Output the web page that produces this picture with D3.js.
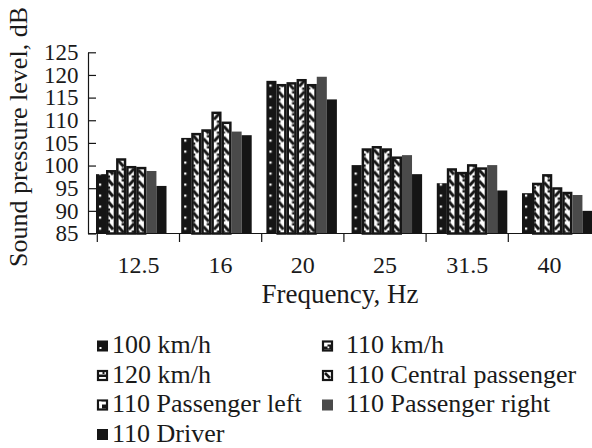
<!DOCTYPE html>
<html>
<head>
<meta charset="utf-8">
<script src="https://cdn.jsdelivr.net/npm/d3@7"></script>
<style>
  html, body { margin: 0; padding: 0; background: #fff; }
  svg { display: block; }
  text { font-family: "Liberation Serif", "Times New Roman", serif; fill: #1a1a1a; }
</style>
</head>
<body>
<svg id="chart" width="592" height="448"></svg>
<script>
// Frequencies (third-octave bands, Hz)
const frequencies = ["12.5", "16", "20", "25", "31.5", "40"];
// Measurement conditions
const seriesNames = [
  "100 km/h", "110 km/h", "120 km/h", "110 Central passenger",
  "110 Passenger left", "110 Passenger right", "110 Driver"
];
// Sound pressure level, dB, per frequency
const levels100 = [98.1, 106.1, 118.7, 100.1, 96.1, 93.9];
const levels110 = [99.0, 107.2, 118.0, 103.8, 99.4, 96.2];
const levels120 = [101.6, 108.0, 118.4, 104.3, 98.6, 98.1];
const levelsCentral = [99.9, 111.9, 119.1, 103.8, 100.3, 95.2];
const levelsLeft = [99.7, 109.7, 118.0, 102.0, 99.6, 94.2];
const levelsRight = [98.8, 107.5, 119.6, 102.3, 100.1, 93.5];
const levelsDriver = [95.5, 106.7, 114.6, 98.1, 94.5, 90.0];
const yTicks = [85, 90, 95, 100, 105, 110, 115, 120, 125];

const seriesValues = [levels100, levels110, levels120, levelsCentral, levelsLeft, levelsRight, levelsDriver];

const svg = d3.select("#chart");
const ink = "#151515";

// Plot frame
const plotLeft = 88, plotRight = 592, plotTop = 52.3, plotBottom = 233.5;

const y = d3.scaleLinear().domain([85, 125]).range([plotBottom, plotTop]);
// Category bands used for the axis ticks and labels
const xAxisBand = d3.scaleBand().domain(frequencies).range([97.3, 590.5]);
// Category bands used for the bar groups
const xGroup = d3.scaleBand().domain(frequencies).range([96, 592.5]).paddingInner(0.1725).paddingOuter(0);
const xSeries = d3.scaleBand().domain(seriesNames).range([0, xGroup.bandwidth()]);
const bw = xSeries.bandwidth();

// ---- Fill patterns for the hatched series ----
const defs = svg.append("defs");
function barPattern(i, draw) {
  const p = defs.append("pattern")
    .attr("id", "pat" + i)
    .attr("patternUnits", "userSpaceOnUse")
    .attr("x", xGroup(frequencies[0]) + xSeries(seriesNames[i]))
    .attr("y", y(85))
    .attr("width", xGroup.step())
    .attr("height", 11);
  draw(p);
}
function hatchBase(p) {
  p.append("rect").attr("width", xGroup.step()).attr("height", 11).attr("fill", "#fff");
}
// 100 km/h: black with white dots
barPattern(0, p => {
  p.append("rect").attr("width", xGroup.step()).attr("height", 11).attr("fill", ink);
  p.append("rect").attr("x", 3).attr("y", 5).attr("width", 2.2).attr("height", 2.2).attr("fill", "#fff");
});
// 110 km/h
barPattern(1, p => {
  hatchBase(p);
  p.append("path").attr("d", "M2,1 L7,7").attr("stroke", ink).attr("stroke-width", 3).attr("fill", "none");
  p.append("rect").attr("x", 1.5).attr("y", 8).attr("width", 2.5).attr("height", 2.5).attr("fill", ink);
});
// 120 km/h
barPattern(2, p => {
  hatchBase(p);
  p.append("path").attr("d", "M2,4 L7.5,10").attr("stroke", ink).attr("stroke-width", 3).attr("fill", "none");
  p.append("rect").attr("x", 5.5).attr("y", 0.5).attr("width", 2.5).attr("height", 2.5).attr("fill", ink);
});
// 110 Central passenger
barPattern(3, p => {
  hatchBase(p);
  p.append("path").attr("d", "M8,1 L2.5,7").attr("stroke", ink).attr("stroke-width", 3).attr("fill", "none");
  p.append("rect").attr("x", 5.5).attr("y", 8).attr("width", 2.5).attr("height", 2.5).attr("fill", ink);
});
// 110 Passenger left
barPattern(4, p => {
  hatchBase(p);
  p.append("path").attr("d", "M2,2.5 L8,9").attr("stroke", ink).attr("stroke-width", 3.2).attr("fill", "none");
  p.append("rect").attr("x", 1.5).attr("y", 8).attr("width", 2).attr("height", 2).attr("fill", ink);
});

const fills = ["url(#pat0)", "url(#pat1)", "url(#pat2)", "url(#pat3)", "url(#pat4)", "#4a4a4a", ink];
const outlined = [false, true, true, true, true, false, false];

// ---- Bars ----
const barData = [];
seriesValues.forEach((vals, si) => {
  vals.forEach((v, fi) => barData.push({ s: si, f: frequencies[fi], v }));
});

svg.append("g").selectAll("rect")
  .data(barData)
  .join("rect")
  .attr("x", d => xGroup(d.f) + xSeries(seriesNames[d.s]) + (outlined[d.s] ? 1.2 : 0))
  .attr("y", d => y(d.v) + (outlined[d.s] ? 1.2 : 0))
  .attr("width", d => bw - (outlined[d.s] ? 2.4 : 0))
  .attr("height", d => y(85) - y(d.v) - (outlined[d.s] ? 1.2 : 0))
  .attr("fill", d => fills[d.s])
  .attr("stroke", d => outlined[d.s] ? ink : "none")
  .attr("stroke-width", 2.5);

// ---- Y axis ----
const yAxis = svg.append("g")
  .attr("transform", `translate(${plotLeft},0)`)
  .call(d3.axisLeft(y).tickValues(yTicks).tickSize(-8).tickSizeOuter(0).tickPadding(9.5).tickFormat(d3.format("d")));
yAxis.select(".domain").attr("stroke", ink).attr("stroke-width", 1.2);
yAxis.selectAll(".tick line").attr("stroke", ink).attr("stroke-width", 1.2);
yAxis.selectAll("text")
  .attr("font-family", "Liberation Serif, serif")
  .attr("font-size", 23)
  .attr("fill", "#1a1a1a");

// ---- X axis ----
svg.append("line")
  .attr("x1", plotLeft).attr("x2", plotRight)
  .attr("y1", plotBottom).attr("y2", plotBottom)
  .attr("stroke", ink).attr("stroke-width", 1.2);

svg.append("g").selectAll("line")
  .data(frequencies)
  .join("line")
  .attr("x1", d => xAxisBand(d)).attr("x2", d => xAxisBand(d))
  .attr("y1", plotBottom).attr("y2", plotBottom + 8.5)
  .attr("stroke", ink).attr("stroke-width", 1.2);

const xAxis = svg.append("g")
  .attr("transform", `translate(0,${plotBottom})`)
  .call(d3.axisBottom(xAxisBand).tickSize(0).tickPadding(22));
xAxis.select(".domain").remove();
xAxis.selectAll("text")
  .attr("font-family", "Liberation Serif, serif")
  .attr("font-size", 24)
  .attr("fill", "#1a1a1a");

// ---- Axis titles ----
svg.append("text")
  .attr("x", (plotLeft + plotRight) / 2)
  .attr("y", 303)
  .attr("text-anchor", "middle")
  .attr("font-size", 27)
  .text("Frequency, Hz");

svg.append("text")
  .attr("transform", "translate(27,137) rotate(-90)")
  .attr("text-anchor", "middle")
  .attr("font-size", 26)
  .text("Sound pressure level, dB");

// ---- Legend ----
const legendCols = [97, 322];
const legendRow0 = 353, legendRowStep = 29.5;
const legend = svg.append("g").selectAll("g")
  .data(seriesNames)
  .join("g")
  .attr("transform", (d, i) => `translate(${legendCols[i % 2]},${legendRow0 + Math.floor(i / 2) * legendRowStep})`);

legend.append("text")
  .attr("x", (d, i) => i % 2 === 0 ? 15 : 24)
  .attr("y", 0)
  .attr("font-size", 26)
  .text(d => d);

// Swatch glyphs
const sw = 11;
legend.each(function (d, i) {
  const g = d3.select(this).append("g").attr("transform", `translate(0,${-sw - 1.5})`);
  if (i === 0) {
    g.append("rect").attr("width", sw).attr("height", sw).attr("fill", ink);
    g.append("rect").attr("x", 2.5).attr("y", 6.5).attr("width", 2).attr("height", 2).attr("fill", "#fff");
  } else if (i === 5) {
    g.append("rect").attr("width", sw).attr("height", sw).attr("fill", "#4a4a4a");
  } else if (i === 6) {
    g.append("rect").attr("width", sw).attr("height", sw).attr("fill", ink);
  } else {
    g.append("rect").attr("x", 1).attr("y", 1).attr("width", sw - 2).attr("height", sw - 2)
      .attr("fill", "#fff").attr("stroke", ink).attr("stroke-width", 2.2);
    if (i === 1) {
      g.append("path").attr("d", "M2,9 L2,6 L5.5,6 L5.5,4 L9,4 L9,9 Z").attr("fill", ink);
      g.append("rect").attr("x", 5.5).attr("y", 6).attr("width", 1.8).attr("height", 1.8).attr("fill", "#fff");
    } else if (i === 2) {
      g.append("rect").attr("x", 2).attr("y", 4.5).attr("width", 7).attr("height", 2.5).attr("fill", ink);
      g.append("rect").attr("x", 5.5).attr("y", 2).attr("width", 2).attr("height", 2).attr("fill", ink);
    } else if (i === 3) {
      g.append("path").attr("d", "M3,3 L8,8").attr("stroke", ink).attr("stroke-width", 2.6);
    } else if (i === 4) {
      g.append("path").attr("d", "M5,9 L5,5 L9,5 L9,9 Z").attr("fill", ink);
      g.append("path").attr("d", "M2,2 L4.5,2 L4.5,4.5 L2,4.5 Z").attr("fill", "#fff");
    }
  }
});
</script>
</body>
</html>
